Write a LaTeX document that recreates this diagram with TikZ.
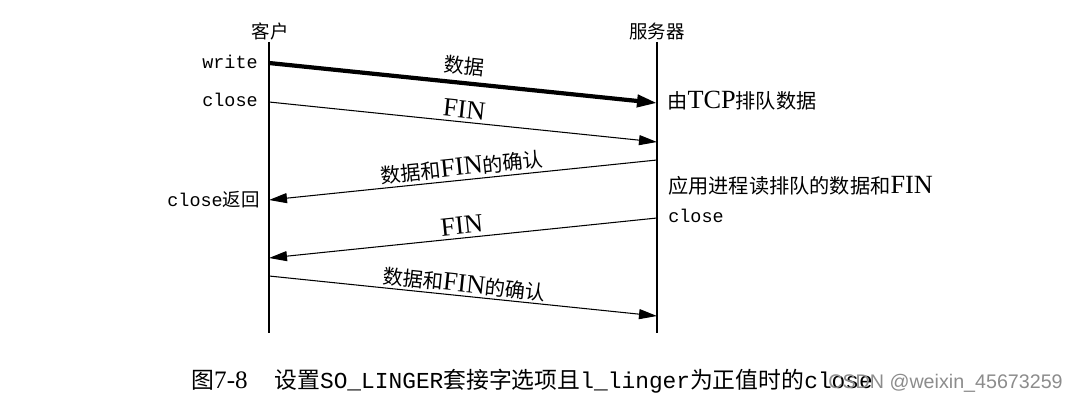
\documentclass[tikz,border=0pt]{standalone}
\usepackage{fontspec}
\setmainfont{Liberation Serif}[Scale=1.3]
\setmonofont{Liberation Mono}
\setsansfont{Liberation Sans}
\newfontfamily\zh{Noto Sans CJK SC}
\usetikzlibrary{arrows.meta}

\tikzset{
	msg/.style={-{Triangle[length=0.36cm,width=0.2cm]},line width=0.6pt},
	msglbl/.style={midway,above,sloped,inner sep=1.5pt,font=\fontsize{11.5}{13}\selectfont},
	side/.style={inner sep=0pt},
	note/.style={side,anchor=west,font=\fontsize{11.5}{13}\selectfont},
}

\begin{document}
\begin{tikzpicture}[x=0.02cm,y=-0.02cm,font=\fontsize{10.5}{12}\selectfont]
	\useasboundingbox (0,0) rectangle (1079,405);
	% lifelines
	\node[side] (client) at (270,31) {\zh 客户};
	\node[side] (server) at (657,31) {\zh 服务器};
	\coordinate (ctop) at (269,42);
	\coordinate (cbot) at (269,333);
	\coordinate (stop) at (657,42);
	\coordinate (sbot) at (657,333);
	\draw[line width=0.6pt] (ctop) -- (cbot);
	\draw[line width=0.6pt] (stop) -- (sbot);
	% points on the lifelines
	\coordinate (c1) at (269,63);  \coordinate (s1) at (657,103);
	\coordinate (c2) at (269,102); \coordinate (s2) at (657,142);
	\coordinate (s3) at (657,160); \coordinate (c3) at (269,200);
	\coordinate (s4) at (657,218); \coordinate (c4) at (269,258);
	\coordinate (c5) at (269,276); \coordinate (s5) at (657,316);
	% messages
	\draw[msg,line width=2.4pt,-{Triangle[length=0.4cm,width=0.24cm]}] (c1) -- (s1)
		node[msglbl,inner sep=3pt] (m1) {\zh 数据};
	\draw[msg] (c2) -- (s2) node[msglbl,inner sep=2pt] (m2) {FIN};
	\draw[msg] (s3) -- (c3) node[msglbl] (m3) {{\zh 数据和}FIN{\zh 的确认}};
	\draw[msg] (s4) -- (c4) node[msglbl,inner sep=2pt] (m4) {FIN};
	\draw[msg] (c5) -- (s5) node[msglbl,inner sep=1pt] (m5) {{\zh 数据和}FIN{\zh 的确认}};
	% side notes
	\node[side,anchor=east] (wr) at (258,62) {\ttfamily write};
	\node[side,anchor=east] (cl) at (258,100) {\ttfamily close};
	\node[side,anchor=east] (clr) at (260,200) {\ttfamily close{\zh 返回}};
	\node[note] (tcpq) at (667,101) {{\zh 由}TCP{\zh 排队数据}};
	\node[note] (rd) at (668,186) {{\zh 应用进程读排队的数据和}FIN};
	\node[side,anchor=west] (scl) at (668,216) {\ttfamily close};
	% caption
	\node[side,anchor=west,font=\fontsize{13}{15}\selectfont] (cap) at (191,381)
		{{\zh 图}{\fontsize{11}{13}\selectfont 7-8}\hspace{0.9em}{\zh 设置}\texttt{SO\_LINGER}{\zh 套接字选项且}\texttt{l\_linger}{\zh 为正值时的}\texttt{close}};
	\node[side,anchor=west,text=black!45,font=\sffamily\fontsize{11.2}{13}\selectfont] (wm) at (828,383)
		{CSDN @weixin\_45673259};
\end{tikzpicture}
\end{document}
